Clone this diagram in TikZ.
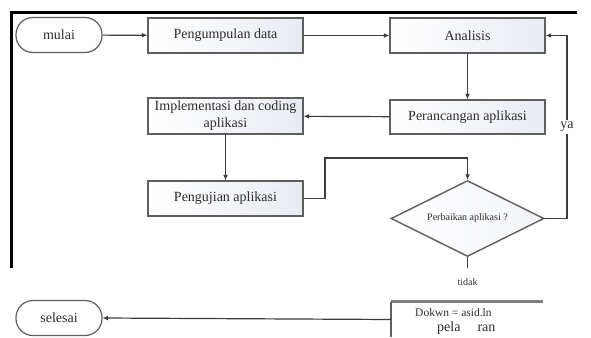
\documentclass[tikz,border=0pt]{standalone}
\usepackage{fontspec}
\setmainfont{Liberation Serif}
\usetikzlibrary{shapes.geometric,arrows.meta}
\definecolor{txt}{RGB}{45,45,45}
\definecolor{edge}{RGB}{95,95,95}
\definecolor{conn}{RGB}{60,60,60}
\definecolor{boxfill}{RGB}{232,235,242}
\tikzset{
  every node/.style={text=txt},
  procbox/.style={draw=edge, line width=1.4pt, left color=white, right color=boxfill,
    minimum width=155pt, minimum height=35pt, inner sep=0pt, font=\fontsize{14}{17}\selectfont, align=center},
  termbox/.style={draw=edge, line width=1.2pt, rounded corners=17pt, fill=white,
    minimum width=86pt, minimum height=35pt, inner sep=0pt, font=\fontsize{14}{17}\selectfont},
  decbox/.style={shape=diamond, aspect=2, draw=edge, line width=1.4pt, left color=white, right color=boxfill!60,
    minimum width=153pt, minimum height=76pt, inner sep=0pt, font=\fontsize{10}{12}\selectfont},
  arr/.style={draw=conn, line width=1.2pt, -{Latex[length=5.5pt,width=5pt]}},
  conline/.style={draw=conn, line width=1.2pt},
}
\begin{document}
\begin{tikzpicture}[x=1pt,y=-1pt]
\useasboundingbox[fill=white] (0,0) rectangle (591,337);
% frame
\draw[line width=3pt, black] (11,268) -- (11,13) -- (577,13);
% nodes
\node[termbox] (mulai) at (59,35) {mulai};
\node[procbox] (peng) at (225.5,35.5) {Pengumpulan data};
\node[procbox] (anal) at (467.5,35.5) {Analisis};
\node[procbox, minimum height=34pt] (peran) at (467.5,117) {Perancangan aplikasi};
\node[procbox, minimum height=36pt] (impl) at (225.5,116) {Implementasi dan coding\\aplikasi};
\node[procbox] (uji) at (225.5,198.5) {Pengujian aplikasi};
\node[decbox] (dec) at (467.5,218.5) {Perbaikan aplikasi ?};
\node[termbox] (selesai) at (59,318) {selesai};
\node[minimum width=152pt, minimum height=35pt, inner sep=0pt] (dok) at (467,319.5) {};
\node[anchor=west, inner sep=0pt, font=\fontsize{11.5}{13}\selectfont] (dokA) at (415,313) {Dokwn = asid.ln};
\node[anchor=west, inner sep=0pt, font=\fontsize{14}{16}\selectfont] (dokB) at (437,328) {pela\hspace{17pt}ran};
\draw[line width=3pt, draw=edge!80] (dok.north west) -- (dok.north east);
\draw[line width=1.4pt, draw=edge] (dok.north west) -- (dok.south west);
% connectors
\draw[arr] (mulai) -- (peng);
\draw[arr] (peng) -- (anal);
\draw[arr] (anal) -- (peran);
\draw[arr] (peran) -- (impl);
\draw[arr] (impl) -- (uji);
\draw[arr] (uji.east) -- (325,198.5) -- (325,158) -- (dec.north |- 0,158) -- (dec.north);
\draw[conline] (dec.east) -- (567,218.5) -- (567,35.5) node[pos=0.5, fill=white, inner sep=2pt, font=\fontsize{14}{16}\selectfont] (ya) {ya};
\draw[arr] (567,35.5) -- (anal.east);
\coordinate (tend) at (467.5,268);
\draw[conline] (dec.south) -- (tend);
\node[font=\fontsize{10}{12}\selectfont] (tidak) at (467.5,282) {tidak};
\draw[arr] (dok.west) -- (selesai.east);
\end{tikzpicture}
\end{document}
